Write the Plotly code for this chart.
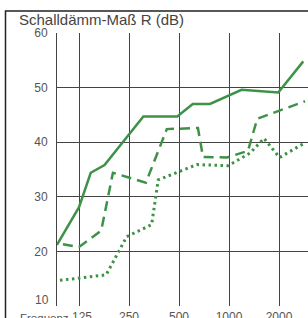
import plotly.graph_objects as go
import math

# Data (frequency in Hz, sound reduction index R in dB)
solid_f = [92, 125, 147, 178, 305, 488, 605, 768, 1190, 1980, 2800]
solid_r = [21.2, 28.1, 34.4, 35.8, 44.7, 44.7, 47.0, 47.0, 49.6, 49.1, 54.8]

dash_f = [100, 125, 170, 200, 316, 422, 650, 697, 973, 1300, 1480, 2870]
dash_r = [21.3, 20.8, 23.8, 34.4, 32.6, 42.4, 42.6, 37.3, 37.2, 38.4, 44.3, 47.5]

dot_f = [96, 182, 242, 342, 375, 422, 640, 986, 1338, 1624, 2016, 2830]
dot_r = [14.7, 15.7, 22.7, 24.9, 33.1, 33.7, 35.9, 35.7, 38.0, 40.7, 37.2, 39.8]

x_ticks = [125, 250, 500, 1000, 2000]
x_tick_labels = ["\u2002125", "250", "500", "1000", "2000"]
y_ticks = [10, 20, 30, 40, 50, 60]
y_tick_labels = ["", "20", "30", "40", "50", "60"]  # "10" drawn slightly raised below

GREEN = "#3e9248"

fig = go.Figure()
fig.add_trace(go.Scatter(x=solid_f, y=solid_r, mode="lines",
                         line=dict(color=GREEN, width=2.5), hoverinfo="skip"))
fig.add_trace(go.Scatter(x=dash_f, y=dash_r, mode="lines",
                         line=dict(color=GREEN, width=2.5, dash="10px,6px"), hoverinfo="skip"))
fig.add_trace(go.Scatter(x=dot_f, y=dot_r, mode="lines",
                         line=dict(color=GREEN, width=3, dash="2.5px,3.5px"), hoverinfo="skip"))

W, H = 308, 318
L, R, T, B = 57, 0, 33, 12
pw, ph = W - L - R, H - T - B

def px_to_paper_x(px):
    return (px - L) / pw

def py_to_paper_y(py):
    return (H - B - py) / ph

fig.update_layout(
    width=W, height=H,
    margin=dict(l=L, r=R, t=T, b=B, pad=0, autoexpand=False),
    paper_bgcolor="white", plot_bgcolor="white",
    showlegend=False,
    font=dict(family="Liberation Sans, Arial, sans-serif", color="#555555", size=12),
    xaxis=dict(type="log", range=[math.log10(92.1), math.log10(2990)],
               tickvals=x_ticks, ticktext=x_tick_labels, automargin=False,
               showgrid=True, gridcolor="#444444", gridwidth=1,
               showline=False, zeroline=False, ticks="",
               tickfont=dict(size=12, color="#555555"), ticklabelstandoff=2),
    yaxis=dict(range=[10, 60], tickvals=y_ticks, ticktext=y_tick_labels, automargin=False,
               showgrid=True, gridcolor="#444444", gridwidth=1,
               showline=True, linecolor="#444444", linewidth=1,
               zeroline=False, ticks="", ticklabelstandoff=6,
               tickfont=dict(size=12, color="#555555")),
    shapes=[
        # outer frame
        dict(type="rect", xref="paper", yref="paper",
             x0=px_to_paper_x(5.5), x1=px_to_paper_x(320),
             y0=py_to_paper_y(330), y1=py_to_paper_y(11),
             line=dict(color="#222222", width=1.5), fillcolor="rgba(0,0,0,0)", layer="above"),
    ],
    annotations=[
        dict(text="Schalldämm-Maß R (dB)", xref="paper", yref="paper",
             x=px_to_paper_x(17), y=py_to_paper_y(20), xanchor="left", yanchor="middle",
             showarrow=False, font=dict(size=15, color="#444444")),
        dict(text="10", xref="paper", yref="y",
             x=px_to_paper_x(51), y=10, xanchor="right", yanchor="middle", yshift=6,
             showarrow=False, font=dict(size=12, color="#555555")),
        dict(text="Frequenz", xref="paper", yref="paper",
             x=px_to_paper_x(18), y=py_to_paper_y(318), xanchor="left", yanchor="middle",
             showarrow=False, font=dict(size=11.5, color="#555555")),
    ],
)

fig.write_html("out.html", config={"displayModeBar": False},
               post_script="document.body.style.margin='0';document.body.style.overflow='hidden';")
